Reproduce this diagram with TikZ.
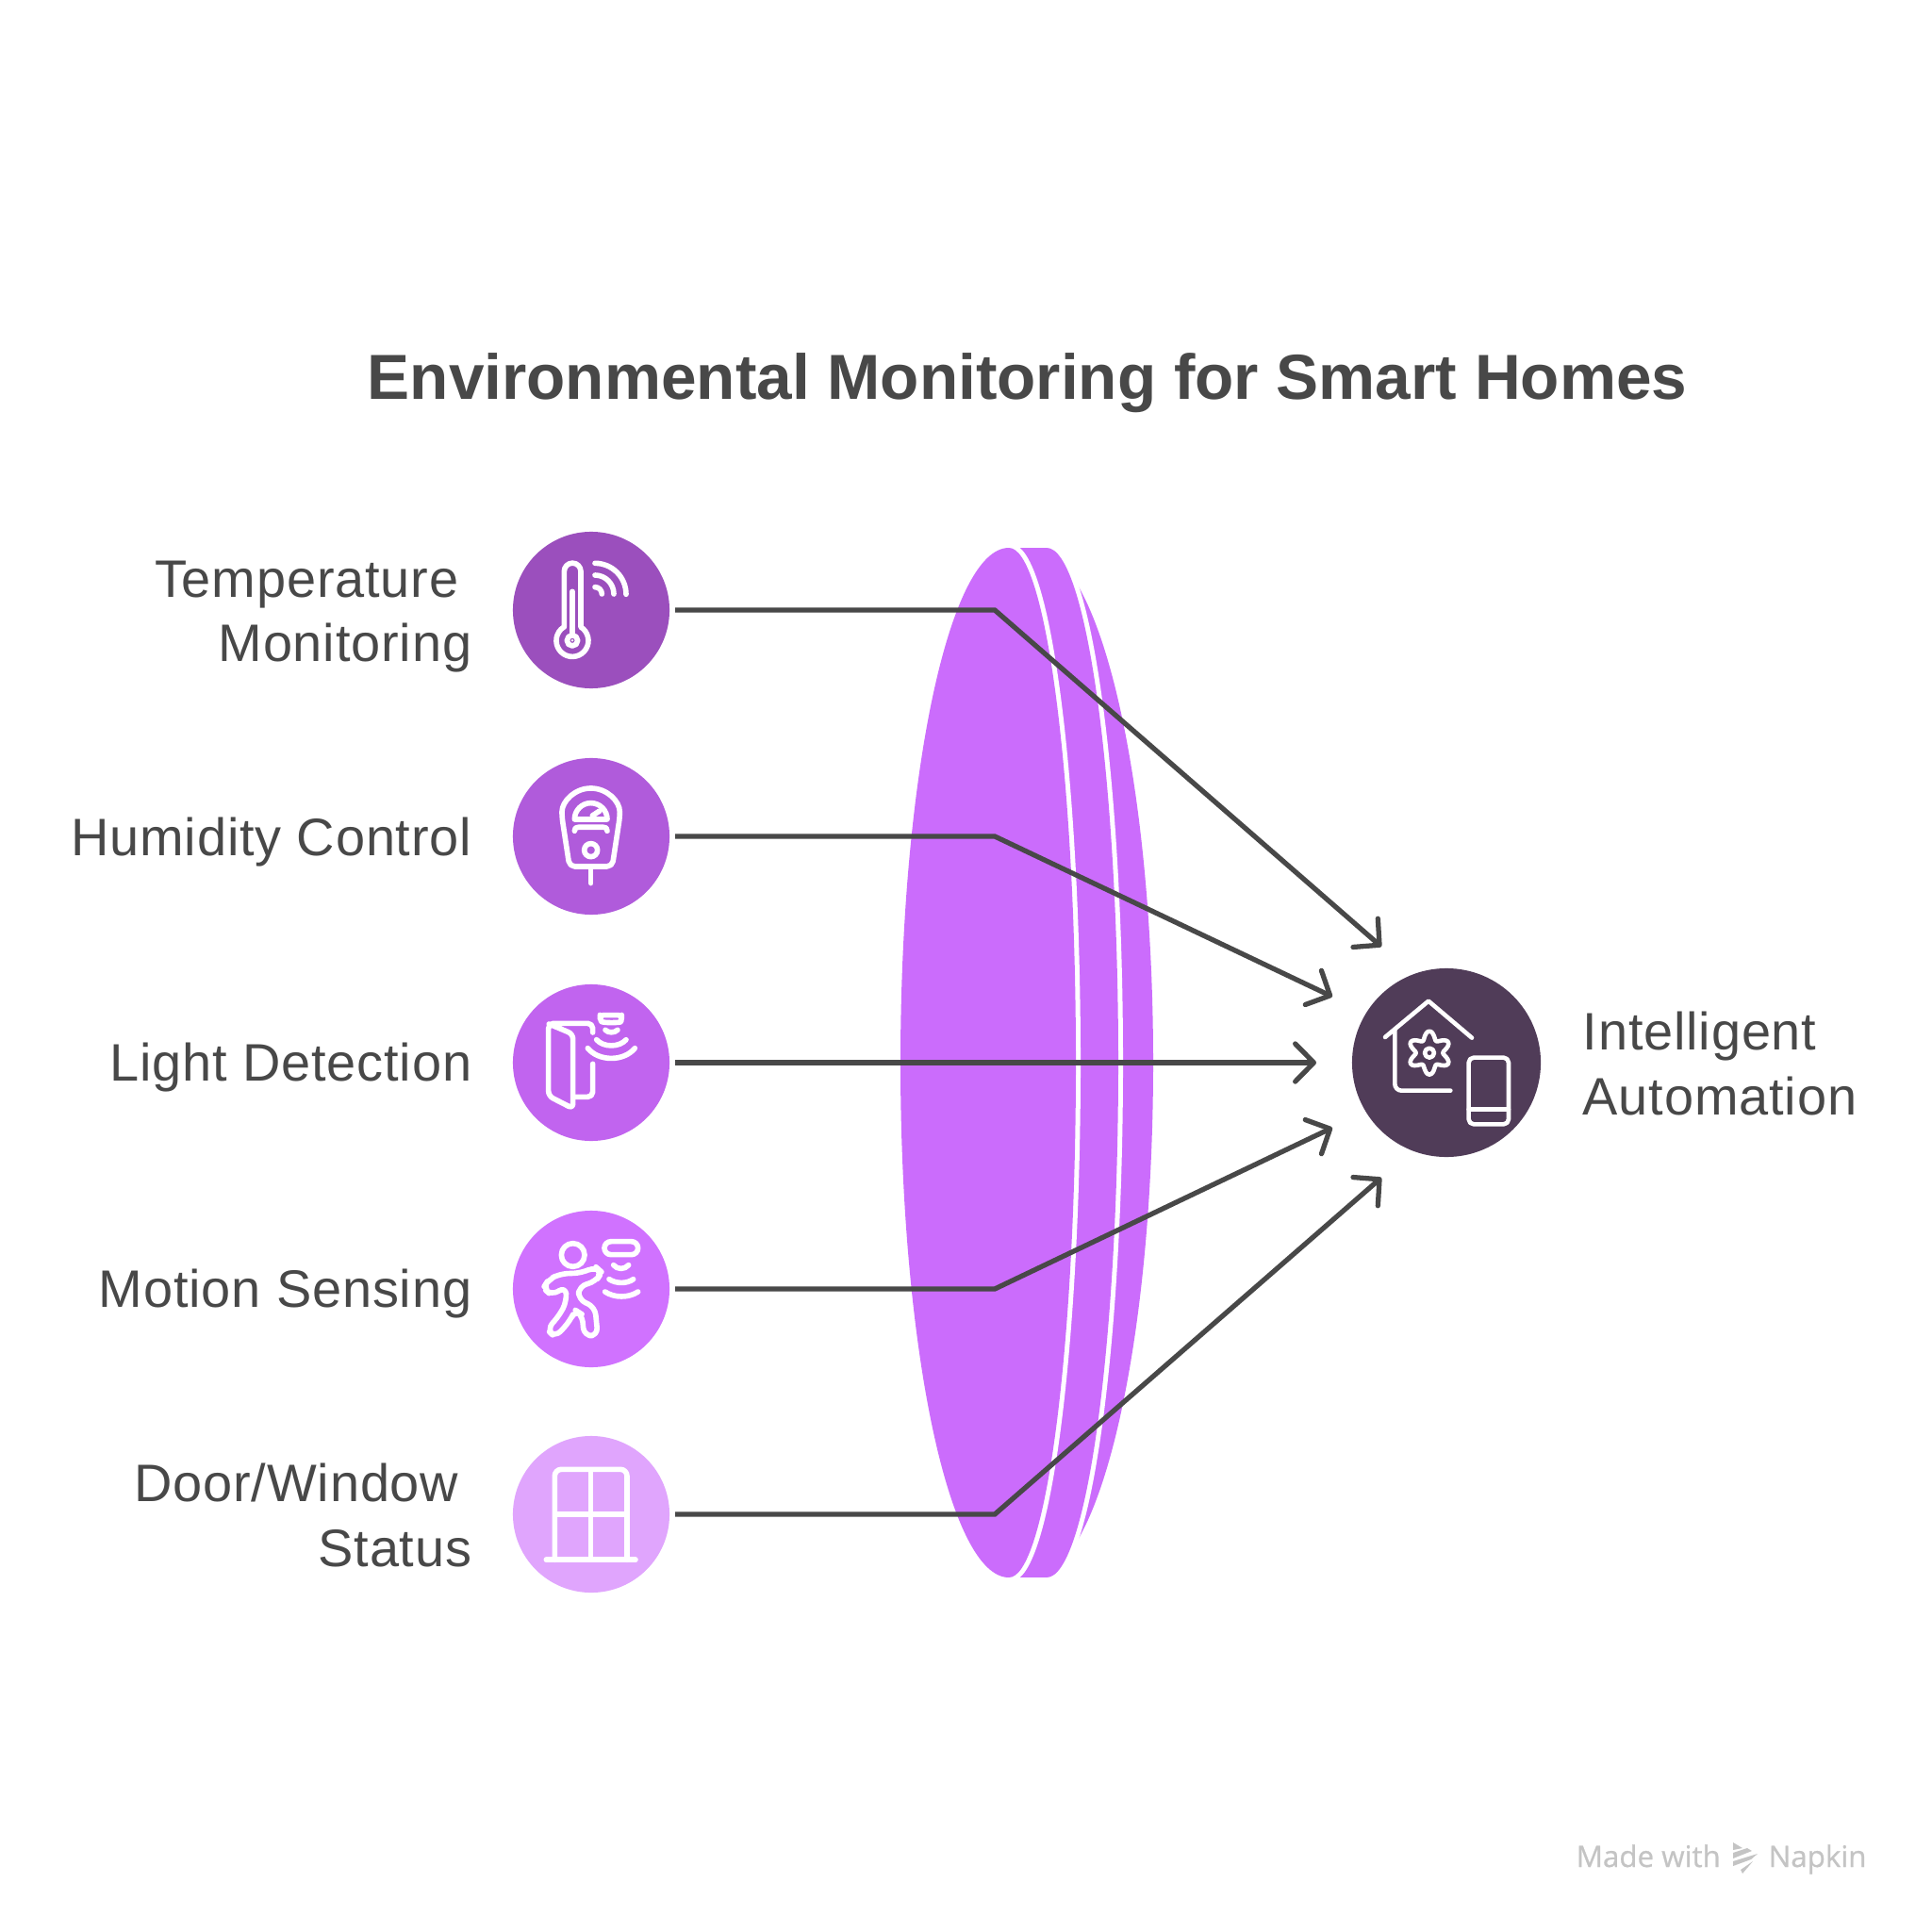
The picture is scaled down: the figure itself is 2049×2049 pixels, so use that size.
\documentclass[tikz,border=0pt]{standalone}
\usepackage{fontspec}
\setmainfont{Liberation Sans}
\newfontfamily\wmfont[FakeBold=0.6]{Open Sans}
\usetikzlibrary{arrows.meta}
\definecolor{lens}{HTML}{CB6CFC}
\definecolor{ink}{HTML}{484848}
\definecolor{cA}{HTML}{9B4FBD}
\definecolor{cB}{HTML}{B05BDB}
\definecolor{cC}{HTML}{C164EF}
\definecolor{cD}{HTML}{D072FF}
\definecolor{cE}{HTML}{E0A5FD}
\definecolor{cF}{HTML}{503C58}
\definecolor{wm}{HTML}{C4C4C4}
\tikzset{
  x=0.01cm,y=-0.01cm,
  dot/.style={circle,minimum size=1.66cm,inner sep=0pt,outer sep=0.06cm},
  lab/.style={text=ink,inner sep=0pt,font=\fontsize{15.9}{19.5}\selectfont\addfontfeature{LetterSpace=1.5}},
  conn/.style={draw=ink,line width=1.5pt,-{Straight Barb[length=5.6pt,width=11.4pt,round]}},
  icon/.style={draw=white,line width=1.6pt,line cap=round,line join=round},
  thin icon/.style={icon,line width=1.3pt},
  halo/.style={draw=white,line width=2.85pt,line join=round},
  wmlab/.style={text=wm,inner sep=0pt,anchor=base west,font=\wmfont\fontsize{8.9}{10}\selectfont}
}
\begin{document}
\begin{tikzpicture}
\useasboundingbox (0,0) rectangle (2049,2049);
\fill[white] (0,0) rectangle (2049,2049);

% lens: back crescent, middle slab, front lens, each with a white edge of constant width
\fill[lens] (1095,581) arc[start angle=-90,end angle=90,x radius=128,y radius=546] -- cycle;
\draw[halo] (1110,581) arc[start angle=-90,end angle=90,x radius=76,y radius=546];
\fill[lens] (1075,581) -- (1110,581) arc[start angle=-90,end angle=90,x radius=76,y radius=546] -- (1075,1673) -- cycle;
\draw[halo] (1070,581) arc[start angle=-90,end angle=90,x radius=71,y radius=546];
\fill[lens] (1070,581) arc[start angle=-90,end angle=90,x radius=71,y radius=546]
   arc[start angle=90,end angle=270,x radius=115,y radius=546] -- cycle;
\fill[white] (1060,570) rectangle (1120,581);
\fill[white] (1060,1673) rectangle (1120,1684);

% title
\node[text=ink,inner sep=0pt,font=\bfseries\fontsize{19.2}{23}\selectfont] (title) at (1089.5,406) {Environmental Monitoring for Smart Homes};

% circles
\node[dot,fill=cA] (c1) at (627,647) {};
\node[dot,fill=cB] (c2) at (627,887) {};
\node[dot,fill=cC] (c3) at (627,1127) {};
\node[dot,fill=cD] (c4) at (627,1367) {};
\node[dot,fill=cE] (c5) at (627,1606) {};
\node[circle,minimum size=2cm,inner sep=0pt,outer sep=0pt,fill=cF] (t) at (1534,1127) {};

% labels
\node[lab,anchor=east,align=right] (l1) at (501,654) {Temperature\hspace*{0.14cm}\\Monitoring};
\node[lab,anchor=east] (l2) at (501,893) {Humidity Control};
\node[lab,anchor=east] (l3) at (501,1132) {Light Detection};
\node[lab,anchor=east] (l4) at (501,1372) {Motion Sensing};
\node[lab,anchor=east,align=right] (l5) at (501,1607) {Door/Window\hspace*{0.14cm}\\Status};
\node[lab,anchor=west,align=left] (l6) at (1678,1128) {Intelligent\\Automation};

% connectors
\coordinate (b1) at (1055,647); \coordinate (e1) at (1465,1004);
\coordinate (b2) at (1055,887); \coordinate (e2) at (1413,1057);
\coordinate (e3) at (1396,1127);
\coordinate (b4) at (1055,1367); \coordinate (e4) at (1413,1196);
\coordinate (b5) at (1055,1606); \coordinate (e5) at (1465,1249);
\draw[conn] (c1.east) -- (b1) -- (e1);
\draw[conn] (c2.east) -- (b2) -- (e2);
\draw[conn] (c3.east) -- (e3);
\draw[conn] (c4.east) -- (b4) -- (e4);
\draw[conn] (c5.east) -- (b5) -- (e5);

% thermometer
\begin{scope}[shift={(530,550)},scale=0.3333]
\draw[icon] (205,345) -- (205,168) arc[start angle=180,end angle=360,radius=26.5] -- (258,345)
   arc[start angle=-58,end angle=238,radius=51];
\draw[icon] (231,388) circle[radius=17];
\fill[white] (231,388) circle[radius=4];
\draw[icon] (231,232) -- (231,371);
\draw[icon] (303,142) arc[start angle=-90,end angle=0,radius=99];
\draw[icon] (303,180) arc[start angle=-90,end angle=0,radius=60];
\draw[icon] (303,218) arc[start angle=-90,end angle=0,radius=22];
% meter
\draw[icon,rounded corners=1.6pt] (198,950) arc[start angle=180,end angle=360,radius=92]
   -- (358,1107) -- (222,1107) -- cycle;
\draw[icon] (290,1107) -- (290,1160);
\draw[icon] (238,957) arc[start angle=180,end angle=360,radius=52] -- cycle;
\draw[icon] (295,945) -- (318,930);
\draw[icon] (238,994) .. controls (238,985) and (242,982) .. (250,982) -- (330,982) .. controls (338,982) and (342,985) .. (342,994);
\draw[icon] (290,1055) circle[radius=21];
\end{scope}

% door
\begin{scope}[shift={(530,1030)},scale=0.3333]
\draw[icon,rounded corners=1.5pt] (296,195) -- (296,166) -- (155,166) -- (155,397) -- (233,437) -- (233,200) -- (157,168);
\draw[icon,rounded corners=1.5pt] (296,295) -- (296,400) -- (235,400);
\draw[icon,rounded corners=1pt] (319,140) -- (388,140) -- (388,150) .. controls (385,165) and (325,165) .. (319,150) -- cycle;
\draw[icon] (336,187) .. controls (345,197) and (365,197) .. (375,187);
\draw[icon] (308,218) .. controls (330,243) and (380,243) .. (402,218);
\draw[icon] (280,245) .. controls (315,288) and (395,288) .. (430,245);
\end{scope}

% motion
\begin{scope}[shift={(530,1270)},scale=0.3333]
\draw[icon] (233,183) circle[radius=37];
\draw[icon,rounded corners=2.4pt] (190,243) -- (262,240) -- (305,220) -- (325,238) -- (305,268) -- (252,282)
  -- (250,325) -- (303,348) -- (312,440) -- (268,440) -- (262,372) -- (240,358) -- (222,395)
  -- (176,445) -- (150,420) -- (190,375) -- (213,330) -- (210,283) -- (165,312) -- (138,288) -- (155,262) -- cycle;
\draw[icon,rounded corners=2pt] (333,140) rectangle (440,182);
\draw[icon] (362,215) .. controls (375,230) and (397,230) .. (410,215);
\draw[icon] (348,260) .. controls (370,275) and (405,275) .. (425,260);
\draw[icon] (335,300) .. controls (365,320) and (410,320) .. (440,300);
% window
\draw[icon,rounded corners=2pt] (175,1153) -- (175,865) -- (405,865) -- (405,1153);
\draw[icon,line cap=butt] (290,865) -- (290,1153);
\draw[icon,line cap=butt] (175,1008) -- (405,1008);
\draw[icon] (148,1153) -- (432,1153);
\end{scope}

% house
\begin{scope}[shift={(1420,1010)},scale=0.3333]
\draw[thin icon] (147,270) -- (285,155) -- (423,272);
\draw[thin icon,rounded corners=2pt] (178,245) -- (178,440) -- (355,440);
\draw[thin icon,smooth cycle,domain=0:355,samples=72] plot ({288+(56+13*cos(6*\x))*sin(\x)},{320+(56+13*cos(6*\x))*cos(\x)});
\draw[thin icon] (288,320) circle[radius=15];
\draw[thin icon,rounded corners=1.5pt] (413,335) rectangle (540,547);
\draw[thin icon] (413,500) -- (540,500);
\end{scope}

% watermark
\node[wmlab] (w1) at (1671,1980) {Made with};
\node[wmlab] (w2) at (1875,1980) {Napkin};
\fill[wm] (1838,1954) -- (1848,1960) -- (1838,1962) -- cycle;
\fill[wm] (1838,1965) -- (1853,1960) -- (1858,1963) -- (1838,1971) -- cycle;
\fill[wm] (1838,1974) -- (1864,1966) -- (1857,1972) -- (1838,1979) -- cycle;
\fill[wm] (1846,1983) -- (1859,1974) -- (1848,1987) -- cycle;
\end{tikzpicture}
\end{document}
